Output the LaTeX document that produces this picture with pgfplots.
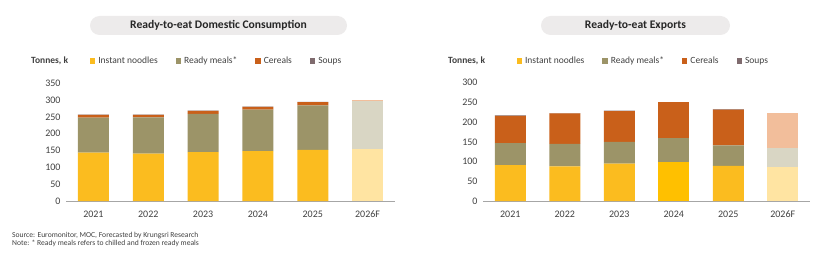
\documentclass[border=0pt]{standalone}
\usepackage{pgfplots}
\pgfplotsset{compat=1.18}
\usepackage{fontspec}
\setmainfont{Carlito}
\definecolor{cNood}{HTML}{FBBC1F}
\definecolor{cNoodB}{HTML}{FFC000}
\definecolor{cReady}{HTML}{9C9468}
\definecolor{cCer}{HTML}{C9601A}
\definecolor{cSoup}{HTML}{7F6B6E}
\definecolor{fNood}{HTML}{FFE4A2}
\definecolor{fReady}{HTML}{D9D6C4}
\definecolor{fCer}{HTML}{F2BE9B}
\definecolor{fSoup}{HTML}{D8CFCF}
\definecolor{pill}{HTML}{EDEBEB}
\definecolor{txt}{HTML}{404040}
\pgfplotsset{
  rtestyle/.style={
    scale only axis,
    ybar stacked,
    bar width=31pt,
    xmin=-0.5, xmax=5.5,
    ymin=0,
    xtick={0,1,2,3,4,5},
    xticklabels={2021,2022,2023,2024,2025,2026F},
    axis x line*=bottom,
    ytick style={draw=none},
    xtick style={draw=none},
    x axis line style={draw=gray!70, line width=0.8pt, -},
    tick label style={font=\fontsize{10}{12}\selectfont, text=txt},
    /pgf/number format/assume math mode=true,
    xticklabel style={yshift=-6pt},
    yticklabel style={xshift=-2pt},
    every axis plot/.append style={draw=none},
    legend columns=4,
    legend style={draw=none, fill=none, font=\fontsize{9.5}{11}\selectfont, text=txt, anchor=west,
      /tikz/every even column/.append style={column sep=16pt},
      /tikz/every odd column/.append style={column sep=1pt}},
    legend image code/.code={\fill[##1] (0pt,-2.7pt) rectangle (5.4pt,2.7pt);},
  }
}
\begin{document}
\begin{tikzpicture}
\path (0pt,0pt) rectangle (840pt,260pt);
% titles
\fill[pill, rounded corners=9.5pt] (90pt,225pt) rectangle (347pt,244pt);
\node[font=\fontsize{11.6}{13}\selectfont\bfseries, text=black!85] at (218.5pt,234.5pt) {Ready-to-eat Domestic Consumption};
\fill[pill, rounded corners=9.5pt] (541pt,225pt) rectangle (730pt,244pt);
\node[font=\fontsize{11.6}{13}\selectfont\bfseries, text=black!85] at (635.5pt,234.5pt) {Ready-to-eat Exports};
\node[anchor=west, font=\fontsize{9.5}{11}\selectfont\bfseries, text=txt, inner sep=0pt] at (31pt,199pt) {Tonnes, k};
\node[anchor=west, font=\fontsize{9.5}{11}\selectfont\bfseries, text=txt, inner sep=0pt] at (448pt,199pt) {Tonnes, k};
\node[anchor=west, font=\fontsize{7.6}{8.7}\selectfont, text=txt, inner sep=0pt, align=left] at (12pt,20.5pt) {Source: Euromonitor, MOC, Forecasted by Krungsri Research\\Note: * Ready meals refers to chilled and frozen ready meals};

\begin{axis}[rtestyle, at={(66pt,59pt)}, anchor=south west, width=329pt, height=117.7pt,
  ymax=350, ytick={0,50,100,150,200,250,300,350},
  axis y line*=left, y axis line style={draw=none},
  legend style={at={(0.063,1.19)}}]
\addplot[fill=cNood] coordinates {(0,144) (1,141) (2,145) (3,148) (4,152) (5,0)};
\addplot[fill=cReady] coordinates {(0,104) (1,108) (2,114) (3,124) (4,132) (5,0)};
\addplot[fill=cCer] coordinates {(0,8) (1,7) (2,9) (3,8) (4,10) (5,0)};
\addplot[fill=cSoup] coordinates {(0,1) (1,1) (2,1) (3,1) (4,1) (5,0)};
\legend{Instant noodles, Ready meals*, Cereals, Soups}
\addplot[fill=fNood, forget plot] coordinates {(0,0) (1,0) (2,0) (3,0) (4,0) (5,154)};
\addplot[fill=fReady, forget plot] coordinates {(0,0) (1,0) (2,0) (3,0) (4,0) (5,142)};
\addplot[fill=fCer, forget plot] coordinates {(0,0) (1,0) (2,0) (3,0) (4,0) (5,4)};
\addplot[fill=fSoup, forget plot] coordinates {(0,0) (1,0) (2,0) (3,0) (4,0) (5,1)};
\end{axis}

\begin{axis}[rtestyle, at={(483pt,59pt)}, anchor=south west, width=327pt, height=118.3pt,
  ymax=300, ytick={0,50,100,150,200,250,300},
  axis y line*=left, y axis line style={draw=none},
  legend style={at={(0.093,1.185)}}]
\addplot[fill=cNood] coordinates {(0,91) (1,88) (2,95) (3,0) (4,89) (5,0)};
\addplot[fill=cReady] coordinates {(0,56) (1,57) (2,55) (3,0) (4,52) (5,0)};
\addplot[fill=cCer] coordinates {(0,69) (1,77) (2,78) (3,0) (4,91) (5,0)};
\addplot[fill=cSoup] coordinates {(0,1) (1,1) (2,1) (3,0) (4,1) (5,0)};
\legend{Instant noodles, Ready meals*, Cereals, Soups}
\addplot[fill=cNoodB, forget plot] coordinates {(0,0) (1,0) (2,0) (3,99) (4,0) (5,0)};
\addplot[fill=cReady, forget plot] coordinates {(0,0) (1,0) (2,0) (3,61) (4,0) (5,0)};
\addplot[fill=cCer, forget plot] coordinates {(0,0) (1,0) (2,0) (3,90) (4,0) (5,0)};
\addplot[fill=cSoup, forget plot] coordinates {(0,0) (1,0) (2,0) (3,1) (4,0) (5,0)};
\addplot[fill=fNood, forget plot] coordinates {(0,0) (1,0) (2,0) (3,0) (4,0) (5,86)};
\addplot[fill=fReady, forget plot] coordinates {(0,0) (1,0) (2,0) (3,0) (4,0) (5,49)};
\addplot[fill=fCer, forget plot] coordinates {(0,0) (1,0) (2,0) (3,0) (4,0) (5,88)};
\end{axis}
\end{tikzpicture}
\end{document}
